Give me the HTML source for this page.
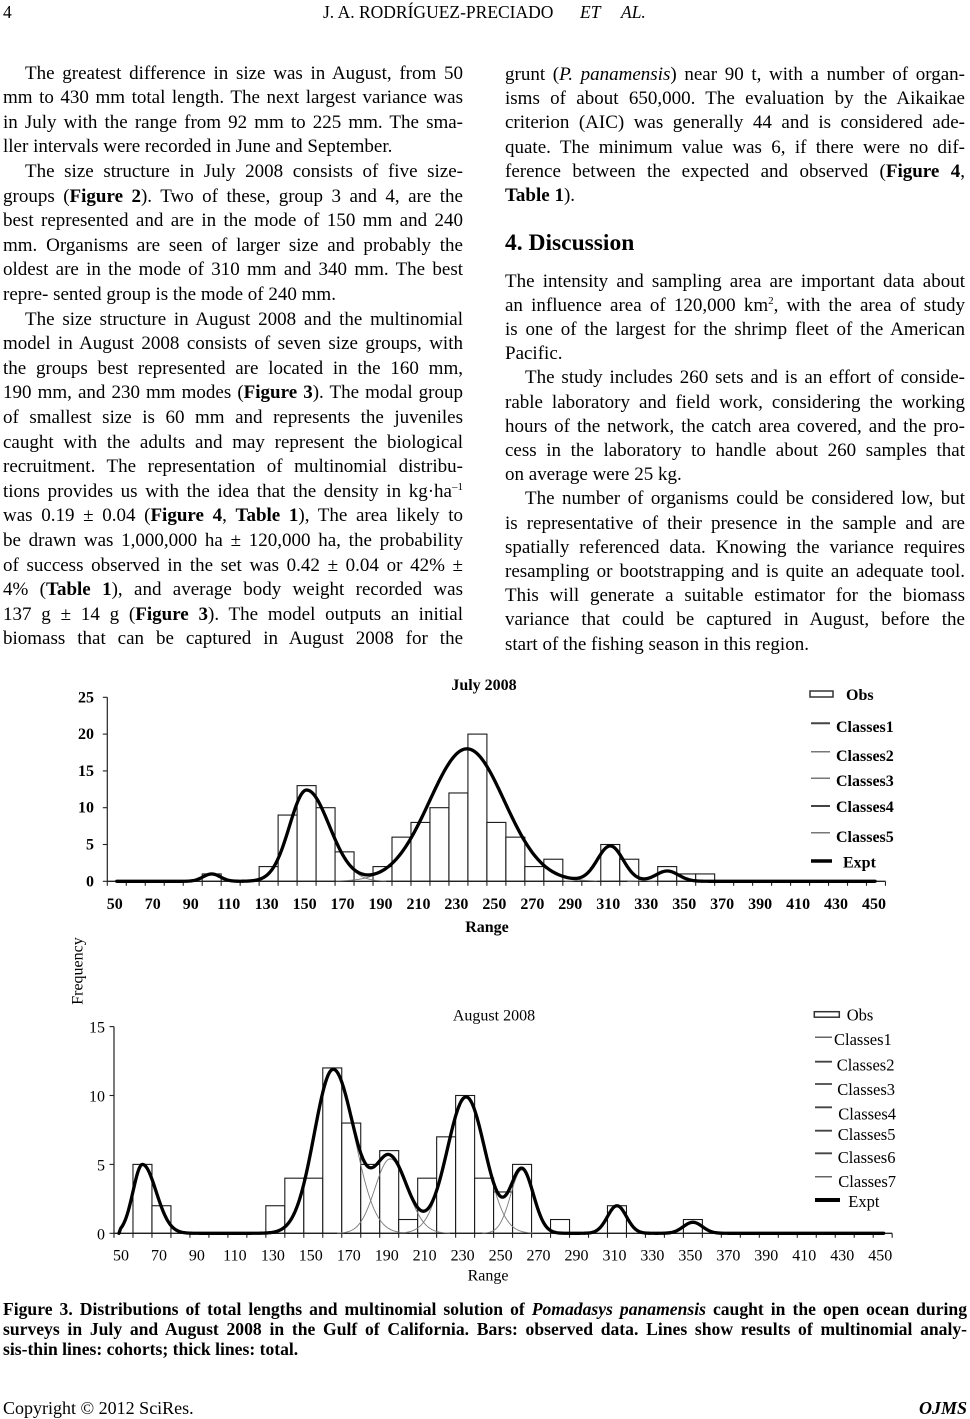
<!DOCTYPE html>
<html>
<head>
<meta charset="utf-8">
<style>
  html,body{margin:0;padding:0;background:#fff;}
  body{width:970px;height:1418px;position:relative;overflow:hidden;
       font-family:"Liberation Serif","Times New Roman",serif;color:#000;}
  .col{position:absolute;font-size:19px;}
  .col div{white-space:normal;}
  .j{text-align:justify;text-align-last:justify;}
  .l{text-align:left;text-align-last:left;}
  .iL{padding-left:22px;}
  .iR{padding-left:20px;}
  sup{font-size:11px;line-height:0;vertical-align:7px;}
  b{font-weight:bold;}
  #cap{position:absolute;left:3px;top:1298.9px;width:964px;font-size:17.6px;font-weight:bold;line-height:20.2px;}
  svg{position:absolute;left:0;top:0;}
  svg text{font-family:"Liberation Serif","Times New Roman",serif;fill:#000;}
</style>
</head>
<body>

<!-- header -->
<div style="position:absolute;left:3px;top:0.7px;font-size:17.5px;line-height:22px;">4</div>
<div style="position:absolute;left:323px;top:0.7px;font-size:17.5px;line-height:22px;white-space:nowrap;">J. A. RODRÍGUEZ-PRECIADO</div>
<div style="position:absolute;left:580px;top:0.7px;font-size:17.5px;line-height:22px;font-style:italic;white-space:nowrap;">ET</div>
<div style="position:absolute;left:621px;top:0.7px;font-size:17.5px;line-height:22px;font-style:italic;white-space:nowrap;">AL.</div>

<!-- left column -->
<div class="col" style="left:3px;top:61.7px;width:460px;line-height:24.6px;">
<div class="j iL">The greatest difference in size was in August, from 50</div>
<div class="j">mm to 430 mm total length. The next largest variance was</div>
<div class="j">in July with the range from 92 mm to 225 mm. The sma-</div>
<div class="l">ller intervals were recorded in June and September.</div>
<div class="j iL">The size structure in July 2008 consists of five size-</div>
<div class="j">groups (<b>Figure 2</b>). Two of these, group 3 and 4, are the</div>
<div class="j">best represented and are in the mode of 150 mm and 240</div>
<div class="j">mm. Organisms are seen of larger size and probably the</div>
<div class="j">oldest are in the mode of 310 mm and 340 mm. The best</div>
<div class="l">repre- sented group is the mode of 240 mm.</div>
<div class="j iL">The size structure in August 2008 and the multinomial</div>
<div class="j">model in August 2008 consists of seven size groups, with</div>
<div class="j">the groups best represented are located in the 160 mm,</div>
<div class="j">190 mm, and 230 mm modes (<b>Figure 3</b>). The modal group</div>
<div class="j">of smallest size is 60 mm and represents the juveniles</div>
<div class="j">caught with the adults and may represent the biological</div>
<div class="j">recruitment. The representation of multinomial distribu-</div>
<div class="j">tions provides us with the idea that the density in kg·ha<sup>–1</sup></div>
<div class="j">was 0.19 ± 0.04 (<b>Figure 4</b>, <b>Table 1</b>), The area likely to</div>
<div class="j">be drawn was 1,000,000 ha ± 120,000 ha, the probability</div>
<div class="j">of success observed in the set was 0.42 ± 0.04 or 42% ±</div>
<div class="j">4% (<b>Table 1</b>), and average body weight recorded was</div>
<div class="j">137 g ± 14 g (<b>Figure 3</b>). The model outputs an initial</div>
<div class="j">biomass that can be captured in August 2008 for the</div>
</div>

<!-- right column -->
<div class="col" style="left:505px;top:62.9px;width:460px;line-height:24.2px;">
<div class="j">grunt (<i>P. panamensis</i>) near 90 t, with a number of organ-</div>
<div class="j">isms of about 650,000. The evaluation by the Aikaikae</div>
<div class="j">criterion (AIC) was generally 44 and is considered ade-</div>
<div class="j">quate. The minimum value was 6, if there were no dif-</div>
<div class="j">ference between the expected and observed (<b>Figure 4</b>,</div>
<div class="l"><b>Table 1</b>).</div>
</div>
<div style="position:absolute;left:505px;top:228.3px;font-size:23.5px;font-weight:bold;line-height:30px;white-space:nowrap;">4. Discussion</div>
<div class="col" style="left:505px;top:269.6px;width:460px;line-height:24.2px;">
<div class="j">The intensity and sampling area are important data about</div>
<div class="j">an influence area of 120,000 km<sup>2</sup>, with the area of study</div>
<div class="j">is one of the largest for the shrimp fleet of the American</div>
<div class="l">Pacific.</div>
<div class="j iR">The study includes 260 sets and is an effort of conside-</div>
<div class="j">rable laboratory and field work, considering the working</div>
<div class="j">hours of the network, the catch area covered, and the pro-</div>
<div class="j">cess in the laboratory to handle about 260 samples that</div>
<div class="l">on average were 25 kg.</div>
<div class="j iR">The number of organisms could be considered low, but</div>
<div class="j">is representative of their presence in the sample and are</div>
<div class="j">spatially referenced data. Knowing the variance requires</div>
<div class="j">resampling or bootstrapping and is quite an adequate tool.</div>
<div class="j">This will generate a suitable estimator for the biomass</div>
<div class="j">variance that could be captured in August, before the</div>
<div class="l">start of the fishing season in this region.</div>
</div>

<!-- charts -->
<svg width="970" height="1418" viewBox="0 0 970 1418" xmlns="http://www.w3.org/2000/svg">
  <g id="g1"></g>
  <g id="g2"></g>

  <!-- July chart text -->
  <g font-weight="bold" font-size="16">
    <text x="484" y="690" text-anchor="middle">July 2008</text>
    <text x="94" y="886.3" text-anchor="end">0</text>
    <text x="94" y="849.5" text-anchor="end">5</text>
    <text x="94" y="812.7" text-anchor="end">10</text>
    <text x="94" y="775.9" text-anchor="end">15</text>
    <text x="94" y="739.1" text-anchor="end">20</text>
    <text x="94" y="702.3" text-anchor="end">25</text>
    <g id="xl1" text-anchor="middle"></g>
    <text x="487" y="932" text-anchor="middle">Range</text>
    <!-- legend -->
    <rect x="810" y="691" width="23" height="6" fill="#fff" stroke="#333" stroke-width="1.5"/>
    <text x="846" y="700">Obs</text>
    <line x1="811" y1="723.3" x2="830" y2="723.3" stroke="#444" stroke-width="2"/>
    <text x="836" y="732">Classes1</text>
    <line x1="811" y1="751.7" x2="830" y2="751.7" stroke="#777" stroke-width="1.5"/>
    <text x="836" y="761">Classes2</text>
    <line x1="811" y1="778.3" x2="830" y2="778.3" stroke="#777" stroke-width="1.5"/>
    <text x="836" y="786">Classes3</text>
    <line x1="811" y1="806" x2="830" y2="806" stroke="#444" stroke-width="2"/>
    <text x="836" y="812">Classes4</text>
    <line x1="811" y1="832.7" x2="830" y2="832.7" stroke="#777" stroke-width="1.5"/>
    <text x="836" y="842">Classes5</text>
    <line x1="811" y1="861" x2="832" y2="861" stroke="#000" stroke-width="3.5"/>
    <text x="843" y="867.5">Expt</text>
  </g>

  <!-- Frequency -->
  <text font-size="16" transform="translate(82.5,971) rotate(-90)" text-anchor="middle">Frequency</text>

  <!-- August chart text -->
  <g font-size="16">
    <text x="494" y="1020.5" text-anchor="middle">August 2008</text>
    <text x="105" y="1239.3" text-anchor="end">0</text>
    <text x="105" y="1170.4" text-anchor="end">5</text>
    <text x="105" y="1101.5" text-anchor="end">10</text>
    <text x="105" y="1032.6" text-anchor="end">15</text>
    <g id="xl2" text-anchor="middle"></g>
    <text x="488" y="1280.5" text-anchor="middle">Range</text>
    <!-- legend -->
    <rect x="814.3" y="1011.7" width="25" height="5.5" fill="#fff" stroke="#333" stroke-width="1.5"/>
    <g font-size="16.5">
    <text x="846.7" y="1020.3">Obs</text>
    <line x1="815" y1="1037.3" x2="832" y2="1037.3" stroke="#666" stroke-width="1.5"/>
    <text x="834" y="1044.8">Classes1</text>
    <line x1="815" y1="1061.7" x2="832" y2="1061.7" stroke="#444" stroke-width="1.8"/>
    <text x="836.7" y="1070.5">Classes2</text>
    <line x1="815" y1="1084" x2="832" y2="1084" stroke="#444" stroke-width="1.8"/>
    <text x="837.3" y="1094.8">Classes3</text>
    <line x1="815" y1="1107.3" x2="832" y2="1107.3" stroke="#444" stroke-width="1.8"/>
    <text x="838.3" y="1119.5">Classes4</text>
    <line x1="815" y1="1130.7" x2="832" y2="1130.7" stroke="#444" stroke-width="1.8"/>
    <text x="837.7" y="1139.8">Classes5</text>
    <line x1="815" y1="1153.3" x2="832" y2="1153.3" stroke="#444" stroke-width="1.8"/>
    <text x="837.7" y="1163.2">Classes6</text>
    <line x1="815" y1="1176.7" x2="832" y2="1176.7" stroke="#666" stroke-width="1.5"/>
    <text x="838.3" y="1187.2">Classes7</text>
    <line x1="815" y1="1200" x2="840" y2="1200" stroke="#000" stroke-width="4"/>
    <text x="848.3" y="1207">Expt</text>
    </g>
  </g>
</svg>

<!-- caption -->
<div id="cap">
<div class="j">Figure 3. Distributions of total lengths and multinomial solution of <i>Pomadasys panamensis</i> caught in the open ocean during</div>
<div class="j">surveys in July and August 2008 in the Gulf of California. Bars: observed data. Lines show results of multinomial analy-</div>
<div class="l">sis-thin lines: cohorts; thick lines: total.</div>
</div>

<!-- footer -->
<div style="position:absolute;left:3px;top:1397.3px;font-size:18px;line-height:22px;white-space:nowrap;">Copyright © 2012 SciRes.</div>
<div style="position:absolute;right:3px;top:1397.3px;font-size:18px;line-height:22px;font-weight:bold;font-style:italic;white-space:nowrap;">OJMS</div>

<script>
(function(){
  function draw(gid, xlid, o){
    var X=function(v){return o.x0+((v-50)/10+0.5)*o.w;};
    var Y=function(f){return o.y0-f*o.ys;};
    var s='';
    o.bars.forEach(function(b){
      var xl=o.x0+((b[0]-50)/10)*o.w;
      s+='<rect x="'+xl.toFixed(2)+'" y="'+Y(b[1]).toFixed(2)+'" width="'+o.w.toFixed(2)+'" height="'+(b[1]*o.ys).toFixed(2)+'" fill="#fff" stroke="#1a1a1a" stroke-width="1.1"/>';
    });
    var xe=o.x0+41*o.w;
    s+='<line x1="'+o.x0+'" y1="'+o.y0+'" x2="'+xe.toFixed(2)+'" y2="'+o.y0+'" stroke="#222" stroke-width="1.4"/>';
    s+='<line x1="'+o.x0+'" y1="'+o.ytop+'" x2="'+o.x0+'" y2="'+o.y0+'" stroke="#222" stroke-width="1.2"/>';
    for(var k=0;k<=41;k++){
      var x=(o.x0+k*o.w).toFixed(2);
      s+='<line x1="'+x+'" y1="'+o.y0+'" x2="'+x+'" y2="'+(o.y0+4.5)+'" stroke="#222" stroke-width="1.1"/>';
    }
    for(var t=0;t<=o.ymax;t+=5){
      var y=Y(t).toFixed(2);
      s+='<line x1="'+(o.x0-4.5)+'" y1="'+y+'" x2="'+o.x0+'" y2="'+y+'" stroke="#222" stroke-width="1.1"/>';
    }
    var gf=function(c,v){var sd=v<c[0]?c[2]:c[3];return c[1]*Math.exp(-(v-c[0])*(v-c[0])/(2*sd*sd));};
    o.comps.forEach(function(c){
      var p=[];
      var a=Math.max(c[0]-3.5*c[2],o.v0), b=c[0]+3.5*c[3];
      for(var v=a;v<=b;v+=0.5){p.push(X(v).toFixed(2)+','+Y(gf(c,v)).toFixed(2));}
      s+='<polyline points="'+p.join(' ')+'" fill="none" stroke="#7a7a7a" stroke-width="0.9"/>';
    });
    var p=[];
    if(o.pre){p.push(X(o.pre).toFixed(2)+','+Y(0).toFixed(2));}
    for(var v=o.v0;v<=o.v1+0.001;v+=0.5){
      var f=0;o.comps.forEach(function(c){f+=gf(c,v);});
      p.push(X(v).toFixed(2)+','+Y(f).toFixed(2));
    }
    s+='<polyline points="'+p.join(' ')+'" fill="none" stroke="#000" stroke-width="3.3" stroke-linejoin="round" stroke-linecap="round"/>';
    document.getElementById(gid).innerHTML=s;
    var t2='';
    for(var v=50;v<=450;v+=20){
      t2+='<text x="'+(X(v)-o.lo).toFixed(2)+'" y="'+o.ly+'">'+v+'</text>';
    }
    document.getElementById(xlid).innerHTML=t2;
  }

  draw('g1','xl1',{
    x0:107.3, y0:881.3, w:18.98, ys:7.36, ymax:25, ytop:697.3,
    bars:[[100,1],[130,2],[140,9],[150,13],[160,10],[170,4],[190,2],[200,6],[210,8],[220,10],[230,12],[240,20],[250,8],[260,6],[270,2],[280,3],[310,5],[320,3],[340,2],[350,1],[360,1]],
    comps:[[100,1.0,4.5,4.5],[150,12.4,9,12],[234.5,18,19.7,19.7],[310,4.8,6.8,6.8],[340,1.4,6,6]],
    v0:50, v1:449.5, lo:2, ly:909
  });

  draw('g2','xl2',{
    x0:114, y0:1233.3, w:18.98, ys:13.78, ymax:15, ytop:1026.6,
    bars:[[60,5],[70,2],[130,2],[140,4],[150,4],[160,12],[170,8],[180,5],[190,6],[200,1],[210,4],[220,7],[230,10],[240,4],[250,3],[260,5],[280,1],[310,2],[350,1]],
    comps:[[60,5,5,7.2],[160.5,11.9,10,11],[190.5,5.4,8,9],[230.5,9.9,10,10],[260,4.6,6,6],[310,2,5,5],[350,0.8,5,5]],
    pre:47.6, v0:48.5, v1:450.5, lo:2.5, ly:1260.5
  });
})();
</script>
</body>
</html>
